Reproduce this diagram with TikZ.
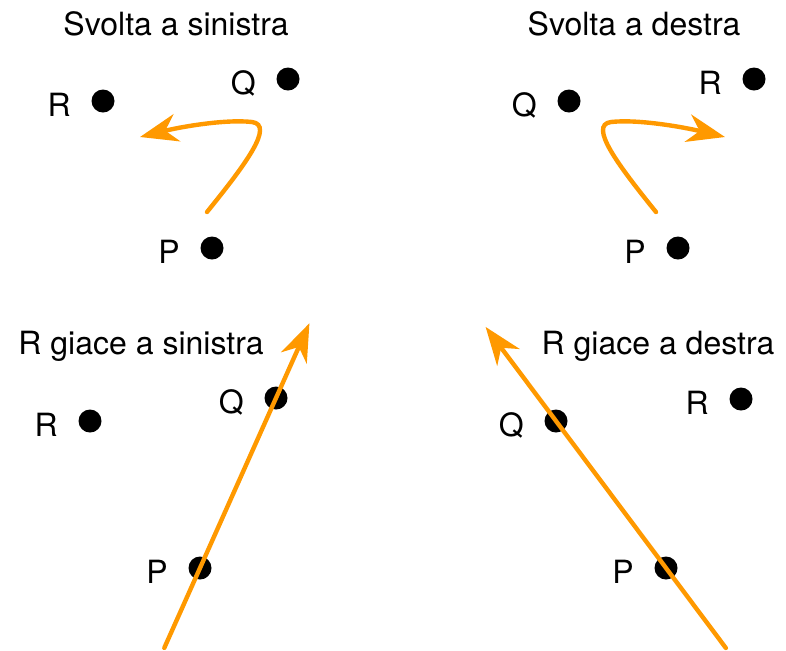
\documentclass[tikz,border=0pt]{standalone}
\usepackage{fontspec}
\setmainfont{TeX Gyre Heros}
\usetikzlibrary{positioning,arrows.meta,calc}
\definecolor{turnorange}{RGB}{255,153,0}

\begin{document}
\begin{tikzpicture}[
  x=0.5pt, y=-0.5pt,
  font=\fontsize{16}{19}\selectfont,
  dot/.style={circle, fill=black, inner sep=0pt, minimum size=11.5pt},
  pointname/.style={inner sep=0pt, yshift=-2pt},
  title/.style={inner sep=0pt, anchor=base},
  arrow/.style={-{Stealth[length=19pt, width=14pt, inset=6pt]}, draw=turnorange, fill=turnorange, line width=2.2pt, line cap=round},
  node distance=10pt
]
\useasboundingbox (0,0) rectangle (786,650);

% svolta a sinistra
\node[title] (t1) at (176,35) {Svolta a sinistra};
\node[dot] (q1) at (288,79) {};
\node[dot] (r1) at (103,101) {};
\node[dot] (p1) at (212,248) {};
\node[pointname, left=of q1] (lq1) {Q};
\node[pointname, left=of r1] (lr1) {R};
\node[pointname, left=of p1] (lp1) {P};
\coordinate (s1) at (207,212);
\coordinate (e1) at (140,137);
\draw[arrow, fill=none] (s1) .. controls (245,165) and (275,125) .. (252,122)
  .. controls (225,119) and (180,127) .. (e1);

% svolta a destra
\node[title] (t2) at (634,35) {Svolta a destra};
\node[dot] (q2) at (569,101) {};
\node[dot] (r2) at (754,79) {};
\node[dot] (p2) at (678,248) {};
\node[pointname, left=of q2] (lq2) {Q};
\node[pointname, left=of r2] (lr2) {R};
\node[pointname, left=of p2] (lp2) {P};
\coordinate (s2) at (656,212);
\coordinate (e2) at (725,137);
\draw[arrow, fill=none] (s2) .. controls (618,165) and (588,125) .. (611,122)
  .. controls (638,119) and (683,127) .. (e2);

% R giace a sinistra
\node[title] (t3) at (141,354) {R giace a sinistra};
\node[dot] (q3) at (276,398) {};
\node[dot] (r3) at (90,421) {};
\node[dot] (p3) at (200,568) {};
\node[pointname, left=of q3] (lq3) {Q};
\node[pointname, left=of r3] (lr3) {R};
\node[pointname, left=of p3] (lp3) {P};
\draw[arrow] ($(p3)!-0.47!(q3)$) -- ($(p3)!1.44!(q3)$);

% R giace a destra
\node[title] (t4) at (658,354) {R giace a destra};
\node[dot] (q4) at (556,421) {};
\node[dot] (r4) at (741,399) {};
\node[dot] (p4) at (666,568) {};
\node[pointname, left=of q4] (lq4) {Q};
\node[pointname, left=of r4] (lr4) {R};
\node[pointname, left=of p4] (lp4) {P};
\draw[arrow] ($(p4)!-0.544!(q4)$) -- ($(p4)!1.64!(q4)$);
\end{tikzpicture}
\end{document}
